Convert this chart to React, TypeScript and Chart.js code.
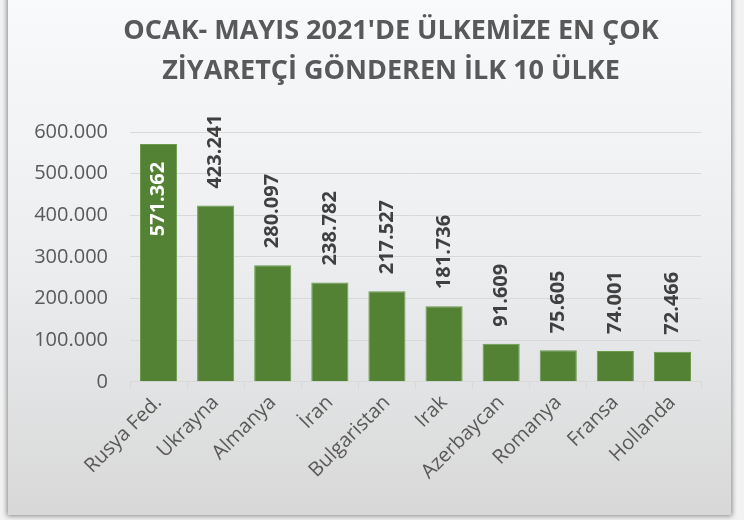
import React, { useEffect, useRef } from 'react';
import { Chart, registerables } from 'chart.js';

Chart.register(...registerables);

const titleLines = ["OCAK- MAYIS 2021'DE ÜLKEMİZE EN ÇOK", 'ZİYARETÇİ GÖNDEREN İLK 10 ÜLKE'];
const countries = ['Rusya Fed.', 'Ukrayna', 'Almanya', 'İran', 'Bulgaristan', 'Irak', 'Azerbaycan', 'Romanya', 'Fransa', 'Hollanda'];
const visitors = [571362, 423241, 280097, 238782, 217527, 181736, 91609, 75605, 74001, 72466];
const yMin = 0;
const yMax = 600000;
const yStep = 100000;

const fmt = (v: number) => String(Math.round(v)).replace(/\B(?=(\d{3})+(?!\d))/g, '.');

const FONT = "'Open Sans', 'Noto Sans', sans-serif";

const titlePlugin = {
  id: 'fixedTitle',
  afterDraw(chart: any) {
    const ctx = chart.ctx;
    ctx.save();
    ctx.font = `bold 27px ${FONT}`;
    ctx.fillStyle = '#595959';
    ctx.textAlign = 'center';
    ctx.textBaseline = 'middle';
    titleLines.forEach((line, i) => {
      ctx.fillText(line, 383, 31 + i * 40);
    });
    ctx.restore();
  },
};

const dataLabelPlugin = {
  id: 'dataLabels',
  afterDatasetsDraw(chart: any) {
    const ctx = chart.ctx;
    const meta = chart.getDatasetMeta(0);
    ctx.save();
    ctx.font = `bold 20px ${FONT}`;
    ctx.textBaseline = 'middle';
    meta.data.forEach((bar: any, i: number) => {
      const text = fmt(visitors[i]);
      ctx.save();
      if (i === 0) {
        ctx.translate(bar.x, bar.y + 18);
        ctx.rotate(-Math.PI / 2);
        ctx.textAlign = 'right';
        ctx.fillStyle = '#ffffff';
      } else {
        ctx.translate(bar.x, bar.y - 17);
        ctx.rotate(-Math.PI / 2);
        ctx.textAlign = 'left';
        ctx.fillStyle = '#404040';
      }
      ctx.fillText(text, 0, 0);
      ctx.restore();
    });
    ctx.restore();
  },
};

export default function App() {
  const ref = useRef<HTMLCanvasElement | null>(null);

  useEffect(() => {
    document.body.style.background = '#f2f2f2';
    const canvas = ref.current!;
    const chart = new Chart(canvas, {
      type: 'bar',
      data: {
        labels: countries,
        datasets: [
          {
            data: visitors,
            backgroundColor: '#548235',
            borderColor: '#6a9a4a',
            borderWidth: { top: 1, left: 1, right: 1, bottom: 0 } as any,
            barPercentage: 0.65,
            categoryPercentage: 1,
          },
        ],
      },
      options: {
        responsive: false,
        animation: false,
        devicePixelRatio: 1,
        layout: { padding: { left: 22, right: 30, top: 132, bottom: 29 } },
        plugins: {
          legend: { display: false },
          tooltip: { enabled: false },
          title: { display: false },
        },
        scales: {
          x: {
            offset: true,
            grid: {
              display: true,
              offset: true,
              drawOnChartArea: false,
              drawTicks: true,
              tickLength: 7,
              color: '#d9d9d9',
            },
            border: { display: true, color: '#d9d9d9', width: 1 },
            ticks: {
              color: '#595959',
              font: { family: FONT, size: 20 },
              minRotation: 45,
              maxRotation: 45,
              autoSkip: false,
              padding: 2,
            },
          },
          y: {
            min: yMin,
            max: yMax,
            afterFit: (scale: any) => {
              scale.width = 100;
            },
            ticks: {
              stepSize: yStep,
              color: '#595959',
              font: { family: FONT, size: 20 },
              padding: 22,
              callback: (v: any) => fmt(Number(v)),
            },
            grid: { color: '#d9d9d9', drawTicks: false, lineWidth: 1 },
            border: { display: false },
          },
        },
      },
      plugins: [dataLabelPlugin, titlePlugin],
    });
    return () => chart.destroy();
  }, []);

  return (
    <div
      style={{
        position: 'absolute',
        left: 8,
        top: -10,
        width: 723,
        height: 525,
        background: 'linear-gradient(to bottom, #f9fafc 0%, #eceef0 50%, #d8d8d8 100%)',
        boxShadow: '0 0 5px 1px rgba(0,0,0,0.45)',
      }}
    >
      <canvas ref={ref} width={723} height={515} style={{ position: 'absolute', left: 0, top: 10, display: 'block' }} />
    </div>
  );
}
